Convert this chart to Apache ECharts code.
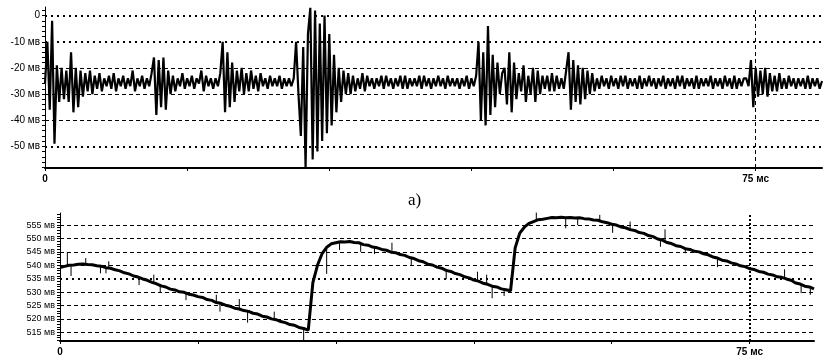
<!DOCTYPE html>
<html><head><meta charset="utf-8">
<script src="https://cdn.jsdelivr.net/npm/echarts@6/dist/echarts.min.js"></script>
<style>html,body{margin:0;padding:0;background:#fff}#c{width:833px;height:361px}</style>
</head><body><div id="c"></div>
<script>
// ---- data ----
const topStep = 0.25; // ms between samples
const topValues = [
-26,-10,-36,-2, -49,-19,-33,-20, -32,-21,-33,-14, -37,-20,-35,-21, -31,-22,-29,-21,
-30,-23,-28,-22, -29,-24,-27,-23, -28,-22,-29,-24, -27,-23,-28,-24, -27,-21,-29,-24,
-27,-23,-28,-24, -27,-22,-16,-38, -17,-35,-16,-36, -21,-30,-23,-29, -24,-27,-22,-28,
-24,-27,-23,-28, -24,-26,-21,-29, -23,-27,-24,-28, -24,-27,-22,-10, -37,-14,-35,-18,
-33,-21,-29,-20, -30,-22,-29,-21, -28,-23,-29,-22, -27,-24,-28,-23, -27,-24,-27,-23,
-28,-24,-27,-24, -27,-24,-10,-30, -46,-12,-58,-7, 3,-55,2,-52, -3,-48,0,-45,
-7,-42,-15,-37, -20,-33,-21,-30, -22,-30,-23,-29, -24,-28,-22,-29, -23,-27,-24,-28,
-24,-27,-23,-28, -23,-27,-24,-28, -24,-27,-23,-28, -23,-28,-24,-27, -24,-27,-23,-28,
-23,-27,-24,-28, -24,-27,-23,-27, -24,-28,-23,-27, -24,-27,-24,-28, -24,-27,-23,-28,
-24,-27,-23,-10, -40,-14,-42,-4, -38,-15,-35,-18, -30,-22,-20,-34, -14,-37,-18,-32,
-22,-29,-19,-33, -23,-30,-20,-33, -21,-30,-23,-28, -23,-29,-22,-29, -23,-28,-24,-28,
-21,-14,-36,-17, -33,-19,-34,-20, -32,-21,-30,-22, -29,-24,-28,-23, -27,-24,-28,-23,
-27,-24,-28,-23, -27,-23,-28,-24, -27,-24,-28,-23, -28,-24,-27,-23, -27,-24,-28,-24,
-27,-23,-28,-24, -27,-24,-28,-23, -27,-23,-28,-24, -27,-24,-28,-23, -28,-24,-27,-24,
-27,-23,-28,-24, -27,-24,-28,-23, -27,-24,-28,-23, -28,-24,-27,-24, -24,-27,-17,-35,
-20,-31,-21,-30, -20,-31,-22,-29, -23,-29,-22,-28, -24,-28,-23,-27, -24,-28,-24,-27,
-24,-28,-23,-28, -24,-27,-24,-28, -25
];
const bottomStep = 0.5; // ms between samples
const bottomValues = [
539.2,539.6,540.0,540.1,540.4,540.5,540.3,540.2,539.8,539.6,
539.1,538.9,538.3,537.9,537.2,536.8,536.0,535.6,534.9,534.4,
533.6,533.1,532.3,531.9,531.1,530.8,530.1,529.9,529.2,528.9,
528.3,528.0,527.2,526.9,526.1,525.8,525.1,524.7,524.0,523.7,
523.1,522.8,522.1,521.8,521.0,520.7,520.0,519.7,519.0,518.6,
517.9,517.6,516.8,516.4,515.8,533.5,540.0,544.3,546.7,548.0,
548.4,548.8,548.7,548.9,548.5,548.4,547.7,547.5,546.8,546.5,
545.9,545.6,544.9,544.7,544.0,543.7,542.9,542.5,541.7,541.3,
540.4,540.1,539.3,538.9,538.1,537.7,536.9,536.5,535.7,535.3,
534.5,534.1,533.3,532.9,532.2,531.9,531.2,530.9,530.5,546.5,
552.0,554.2,555.6,556.3,557.0,557.2,557.5,557.8,557.7,557.9,
557.7,557.8,557.6,557.7,557.4,557.3,556.9,556.8,556.2,555.9,
555.3,555.0,554.3,554.0,553.3,553.0,552.2,551.9,551.1,550.7,
549.8,549.4,548.5,548.1,547.3,547.0,546.2,545.9,545.2,545.0,
544.3,543.9,543.1,542.7,541.9,541.6,540.9,540.5,539.8,539.5,
538.7,538.4,537.7,537.4,536.7,536.4,535.7,535.5,534.9,534.4,
533.4,533.0,532.2,531.9,531.2
];
const spikeTimes = [0.8,1.2,2.8,4.4,5.0,5.3,8.6,10.2,10.9,13.7,17.0,17.4,19.5,20.4,23.3,26.5,29.0,30.4,32.7,34.2,36.1,38.2,42.0,45.4,46.4,47.0,48.3,51.8,55.0,56.3,58.7,60.1,62.0,65.3,65.8,68.0,71.5,78.8,80.6,81.6];
const spikeTips  = [545,536,542.7,537,537,541.5,532.6,536.5,529.7,527,529,522.7,527.4,518.6,522.7,511.8,536.8,545.7,545,544.2,548.4,539.7,534.8,537.6,536.5,527.7,528.5,559.8,553.8,555,558.8,552.1,556.3,546.9,553.4,544.5,539.3,538.5,529.6,529];

const topYLabels = [0,-10,-20,-30,-40,-50];
const topDotted = [0,-10,-50];
const topDashed = [-20,-30,-40];
const bottomYLabels = [555,550,545,540,535,530,525,520,515];
const bottomDotted = [535];
const bottomDashed = [555,550,545,540,530,525,520,515];
const xTicks = [0,15,30,45,60,75];
const xLabels = [0,75];
const markerTime = 75;

// ---- build ----
const topData = topValues.map((v,i)=>[i*topStep, v]);
const bottomData = bottomValues.map((v,i)=>[i*bottomStep, v]);
const spikeData = [];
spikeTimes.forEach((t,i)=>{
  const base = bottomValues[Math.round(t/bottomStep)];
  spikeData.push([t, base],[t, spikeTips[i]],[t, null]);
});
function range(a,b,s){const r=[];for(let v=a;v<=b+1e-9;v+=s)r.push(+v.toFixed(3));return r;}

const FONT = 'Liberation Sans, Arial, sans-serif';
const dotted = {color:'#000', width:2, type:[2,4]};
const dashed = {color:'#000', width:1, type:[4,3]};

function gridLines(dots, dashes, vStyle){
  const d = [];
  dots.forEach(v=>d.push({yAxis:v, lineStyle:dotted}));
  dashes.forEach(v=>d.push({yAxis:v, lineStyle:dashed}));
  d.push({xAxis:markerTime, lineStyle:vStyle});
  return d;
}

const chart = echarts.init(document.getElementById('c'), null, {renderer:'canvas'});
chart.setOption({
  animation:false,
  backgroundColor:'#fff',
  title:{text:'a)', left:403, top:187, textStyle:{fontFamily:'Liberation Serif, Times New Roman, serif', fontSize:17, fontWeight:'normal', color:'#000'}},
  grid:[
    {left:45, right:11, top:7, bottom:193},
    {left:60, right:19, top:213, bottom:20}
  ],
  xAxis:[0,1].map(g=>({
    type:'value', gridIndex:g, min:0, max:82,
    axisLine:{onZero:false, lineStyle:{color:'#000', width:2}},
    axisTick:{customValues:xTicks, length:3, lineStyle:{color:'#000'}},
    axisLabel:{customValues:xLabels, color:'#000', fontFamily:FONT, fontSize:10, fontWeight:'bold', margin:6,
      formatter:v=> v===0 ? '0' : v+' мс'},
    splitLine:{show:false}
  })),
  yAxis:[
    {type:'value', gridIndex:0, min:-58.3, max:3.3,
     axisLine:{show:true, onZero:false, lineStyle:{color:'#000', width:1}},
     axisTick:{customValues:range(-58,2,2), length:3, lineStyle:{color:'#000'}},
     axisLabel:{customValues:topYLabels, color:'#000', fontFamily:FONT, fontSize:10, margin:5,
       formatter:v=> v===0 ? '0' : v+' мв'},
     splitLine:{show:false}},
    {type:'value', gridIndex:1, min:511.75, max:559.5,
     axisLine:{show:true, onZero:false, lineStyle:{color:'#000', width:1}},
     axisTick:{customValues:range(512,559,1), length:3, lineStyle:{color:'#000'}},
     axisLabel:{customValues:bottomYLabels, color:'#000', fontFamily:FONT, fontSize:9, margin:5,
       formatter:v=> v+' мв'},
     splitLine:{show:false}}
  ],
  series:[
    {type:'line', xAxisIndex:0, yAxisIndex:0, data:[], z:1, silent:true,
     markLine:{symbol:['none','none'], silent:true, label:{show:false}, data:gridLines(topDotted, topDashed, {color:'#000', width:1, type:[4,3]})}},
    {type:'line', xAxisIndex:1, yAxisIndex:1, data:[], z:1, silent:true,
     markLine:{symbol:['none','none'], silent:true, label:{show:false}, data:gridLines(bottomDotted, bottomDashed, {color:'#000', width:2, type:[2,2]})}},
    {type:'line', xAxisIndex:0, yAxisIndex:0, data:topData, showSymbol:false, z:3,
     lineStyle:{color:'#000', width:2.2, join:'bevel'}, sampling:null},
    {type:'line', xAxisIndex:1, yAxisIndex:1, data:bottomData, showSymbol:false, z:3,
     lineStyle:{color:'#000', width:3}},
    {type:'line', xAxisIndex:1, yAxisIndex:1, data:spikeData, showSymbol:false, z:3, connectNulls:false,
     lineStyle:{color:'#000', width:1}}
  ]
});
</script></body></html>
